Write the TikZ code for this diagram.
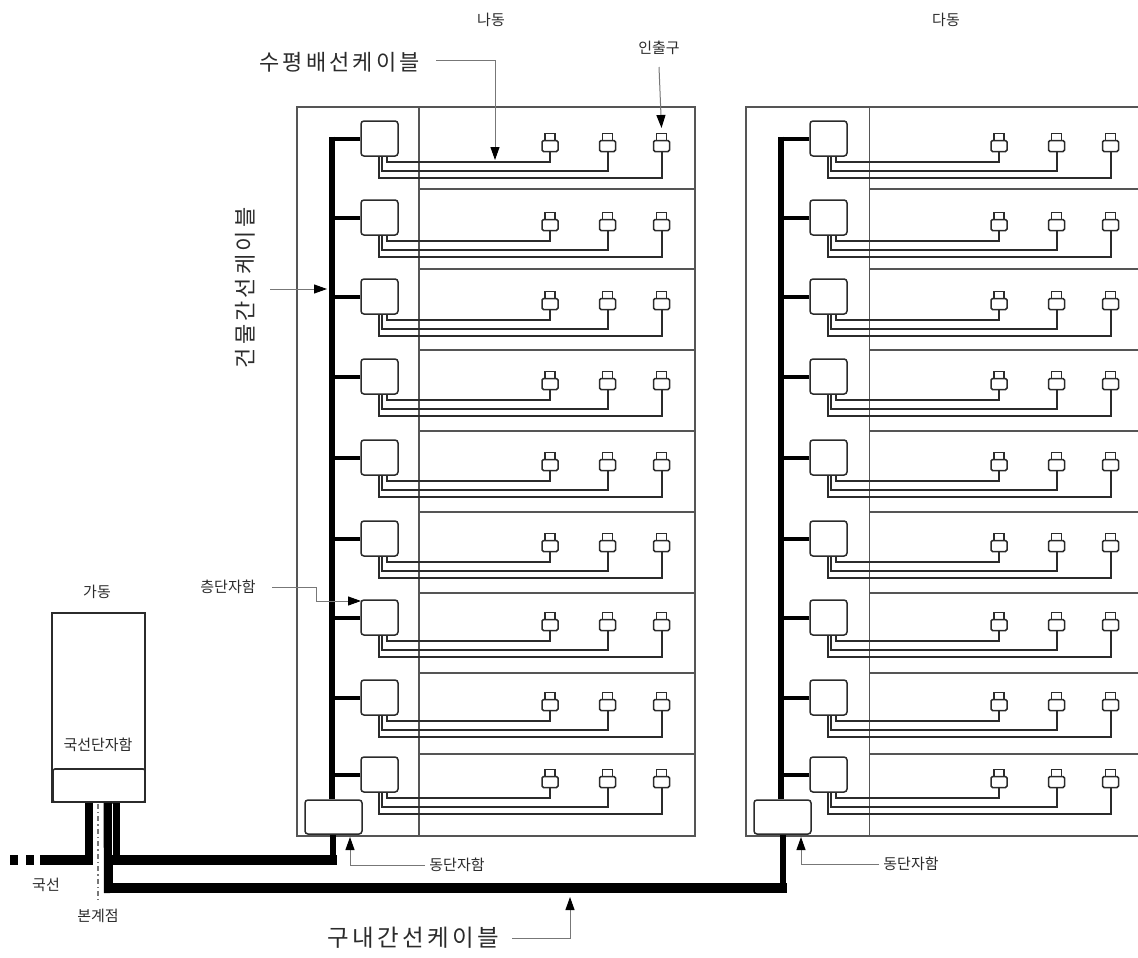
\documentclass[tikz,border=0pt]{standalone}
\usepackage{fontspec}
\newfontfamily\kr{Noto Sans CJK KR}
\newfontfamily\krw[LetterSpace=14.5]{Noto Sans CJK KR}
\usetikzlibrary{arrows.meta,calc}
\definecolor{ink}{HTML}{2B2B2B}
\definecolor{frame}{HTML}{555555}
\definecolor{lead}{HTML}{777777}
\tikzset{
  wall/.style={draw=frame,line width=1.4pt,fill=none},
  fl/.style={draw=frame,line width=1.8pt},
  fbox/.style={draw=ink,line width=1.5pt,rounded corners=3pt,fill=white,minimum width=37pt,minimum height=35pt,inner sep=0pt},
  dbox/.style={draw=ink,line width=1.5pt,rounded corners=3pt,fill=white,minimum width=57pt,minimum height=34pt,inner sep=0pt},
  capbox/.style={draw=ink,line width=1.6pt,rounded corners=2pt,fill=white,minimum width=92pt,minimum height=33pt,inner sep=0pt},
  jack/.style={draw=ink,line width=1.5pt,rounded corners=1.5pt,fill=white,minimum width=16pt,minimum height=11pt,inner sep=0pt},
  jacktop/.style={draw=ink,line width=1.4pt,fill=white,minimum width=10pt,minimum height=9pt,inner sep=0pt},
  wire/.style={draw=ink,line width=2pt},
  bus/.style={draw=black,line width=6pt},
  stub/.style={draw=black,line width=4pt},
  heavy/.style={draw=black,line width=10pt},
  riser/.style={draw=black,line width=7.5pt},
  leader/.style={draw=lead,line width=1pt},
  point/.style={draw=lead,line width=1pt,-{Triangle[length=13pt,width=9pt,color=black]}},
  small/.style={text=ink,font=\kr\fontsize{15}{15}\selectfont,inner sep=0pt},
  big/.style={text=ink,font=\krw\fontsize{22}{22}\selectfont,inner sep=0pt},
  bigger/.style={text=ink,font=\krw\fontsize{23.5}{23.5}\selectfont,inner sep=0pt},
}
\begin{document}
\begin{tikzpicture}[x=1pt,y=-1pt]
\useasboundingbox (0,0) rectangle (1138,958);
% --- building frames
\foreach \b/\ox/\rt/\iw in {B/0/695/419,C/449/1139/420.5}{
  \begin{scope}[shift={(\ox,0)}]
  \draw[wall] (297,107) rectangle (\rt-\ox,836);
  \draw[wall] (\iw,107) -- (\iw,836);
  \foreach \fy in {189,269,350,431,512,593,673,754}
    \draw[fl] (\iw,\fy) -- (\rt-\ox,\fy);
  \end{scope}
}
% --- floors
\foreach \b/\ox in {B/0,C/449}{
  \begin{scope}[shift={(\ox,0)}]
  \node[dbox] (\b dong) at (333.5,817) {};
  \foreach \r/\ty in {1/121,2/200,3/279,4/359,5/440,6/521,7/600,8/680,9/757}{
    \node[fbox] (\b f\r) at (379.5,\ty+17.5) {};
    \foreach \j/\jx in {1/550,2/607.5,3/661.5}{
      \node[jacktop] (\b t\r\j) at (\jx,\ty+17) {};
      \node[jack] (\b o\r\j) at (\jx,\ty+25) {};
    }
    \draw[wire] ([xshift=7pt]\b f\r.south) -- ++(0,5) -| (\b o\r1.south);
    \draw[wire] ([xshift=2.5pt]\b f\r.south) -- ++(0,14) -| (\b o\r2.south);
    \draw[wire] ([xshift=-1pt]\b f\r.south) -- ++(0,21.5) -| (\b o\r3.south);
    \ifnum\r>1
      \draw[stub] (\b f\r.west) -- ++(-28,0);
    \fi
  }
  \coordinate (\b bustop) at ($(\b f1.west)+(-28,0)$);
  \draw[stub] (\b f1.west) -- ($(\b bustop)+(-3,0)$);
  \draw[bus] ($(\b bustop)+(0,-2)$) -- (\b bustop |- \b dong.north);
  \end{scope}
}
% --- building ga
\node[draw=ink,line width=1.4pt,minimum width=93pt,minimum height=189pt,inner sep=0pt] (ga) at (98.5,707.5) {};
\node[capbox] (term) at (99,785.5) {};
\node[small] (gaL) at (97,592) {가동};
\node[small] (termL) at (98,745) {국선단자함};
% --- cables
\coordinate (a1) at ($(term.south)+(-10,0)$);
\coordinate (a2) at ($(term.south)+(9,0)$);
\coordinate (a3) at ($(term.south)+(17.5,0)$);
\coordinate (j1) at (89,860);
\coordinate (j3) at (116.5,860);
\coordinate (j2) at (108.5,888);
\coordinate (outEnd) at (10,860);
\coordinate (bdp) at (98,900);
\draw[riser] (a1) -- (j1);
\draw[riser,line width=9pt] (a2) -- ($(j2)+(0,5)$);
\draw[riser] (a3) -- (j3);
\draw[draw=white,line width=1.2pt] ($(a2)+(4.6,1)$) -- ($(a2)+(4.6,52)$);
\draw[heavy] (40,860) -- ($(j1)+(3.5,0)$);
\draw[heavy,dash pattern=on 8pt off 8pt] (outEnd) -- (40,860);
\draw[heavy] ($(j3)+(-3.5,0)$) -- (336.5,860);
\draw[riser,line width=6.5pt] (Bdong.south -| 333,0) -- (333,865);
\draw[heavy] ($(j2)+(-4.5,0)$) -- (786.5,888);
\draw[riser,line width=6.5pt] (Cdong.south -| 783,0) -- (783,893);
\draw[draw=lead,line width=1.2pt,dash pattern=on 5pt off 3pt on 1.5pt off 3pt] ($(term.south)+(-1,1)$) -- (bdp);
% --- labels
\node[small] (na) at (491,20) {나동};
\node[small] (da) at (946,20) {다동};
\node[small] (inL) at (659,48) {인출구};
\node[big,anchor=west] (horL) at (259,62) {수평배선케이블};
\node[big,anchor=center,rotate=90] (bldL) at (245,288) {건물간선케이블};
\node[small] (flL) at (228,587) {층단자함};
\node[small] (dongB) at (457,865) {동단자함};
\node[small] (dongC) at (911,864) {동단자함};
\node[small] (guk) at (46,885) {국선};
\node[small] (bon) at (98,916) {본계점};
\node[bigger,anchor=center] (campL) at (413,938) {구내간선케이블};
% --- leaders
\coordinate (horTip) at (495,160);
\coordinate (inTip) at (661.5,128);
\coordinate (bldTip) at (327,289);
\coordinate (flTip) at (361,601);
\coordinate (dBTip) at (350,837);
\coordinate (dCTip) at (801,837);
\coordinate (campTip) at (570,897);
\draw[point] (436,61) -| (horTip);
\draw[point] (inL.south |- 0,67) -- (inTip);
\draw[point] (270,289) -- (bldTip);
\draw[point] (272,587) -- (316,587) -- (316,601) -- (flTip);
\draw[point] (dongB.west) ++(-4,0) -| (dBTip);
\draw[point] (dongC.west) ++(-4,0) -| (dCTip);
\draw[point] (512,938) -| (campTip);
\end{tikzpicture}
\end{document}
